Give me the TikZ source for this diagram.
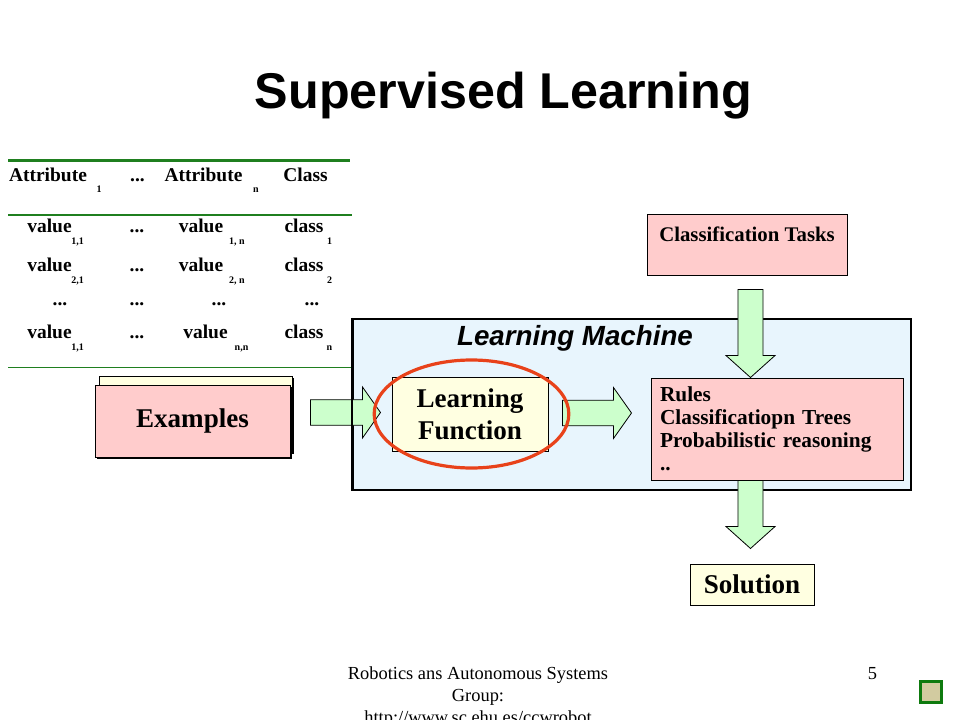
\documentclass[tikz,border=0pt]{standalone}
\usepackage{fontspec}
\setmainfont{Liberation Serif}
\newfontfamily\headfont{Liberation Sans}
\usetikzlibrary{calc,positioning,shapes.geometric,shadows}
\definecolor{leaf}{HTML}{1F7F1F}
\definecolor{rose}{HTML}{FFCCCC}
\definecolor{lemon}{HTML}{FFFFE1}
\definecolor{sky}{HTML}{E8F5FD}
\definecolor{mint}{HTML}{CCFFCC}
\definecolor{flame}{HTML}{E8421A}
\definecolor{khaki}{HTML}{D2CBA0}
\definecolor{moss}{HTML}{0E7A0E}
\newcommand{\threedots}{...}

\begin{document}
\begin{tikzpicture}[x=0.75pt,y=-0.75pt,
    cell/.style={anchor=base,inner sep=0pt,font=\fontsize{14.6}{17}\selectfont\bfseries},
    subcell/.style={anchor=base,inner sep=0pt,font=\fontsize{7.5}{9}\selectfont\bfseries},
    box/.style={draw=black,line width=0.75pt,inner sep=0pt,font=\fontsize{20.3}{24}\selectfont\bfseries},
    shade/.style={drop shadow={shadow xshift=1.2pt,shadow yshift=-1.2pt,opacity=1,fill=black}},
    fatarr/.style n args={3}{draw=black,line width=0.6pt,fill=mint,line join=miter,
      to path={($(\tikztostart)!#1!90:(\tikztotarget)$)
        -- ($($(\tikztotarget)!#3!(\tikztostart)$)!#1!90:(\tikztotarget)$)
        -- ($($(\tikztotarget)!#3!(\tikztostart)$)!#2!90:(\tikztotarget)$)
        -- (\tikztotarget)
        -- ($($(\tikztotarget)!#3!(\tikztostart)$)!#2!-90:(\tikztotarget)$)
        -- ($($(\tikztotarget)!#3!(\tikztostart)$)!#1!-90:(\tikztotarget)$)
        -- ($(\tikztostart)!#1!-90:(\tikztotarget)$) -- cycle}},
    hfat/.style={fatarr={9.6pt}{19.1pt}{13.5pt}},
    vfat/.style={fatarr={9.4pt}{18.4pt}{16.5pt}}]
  \useasboundingbox (0,0) rectangle (960,720);
  \clip (0,0) rectangle (960,720);
  \fill[white] (0,0) rectangle (960,720);
  \node[anchor=base,inner sep=0pt,font=\headfont\fontsize{37.7}{45}\selectfont\bfseries] (title) at (503.5,109) {Supervised Learning};

  \draw[leaf,line width=2.25pt] (8,160.5) -- (350,160.5);
  \draw[leaf,line width=0.9pt] (8,215) -- (352,215);
  \draw[leaf,line width=0.9pt] (8,367.5) -- (353,367.5);
  \foreach \x/\txt [count=\i] in {48/Attribute,137.5/\threedots,203.5/Attribute,305.5/Class}
    \node[cell] (hd\i) at (\x,182) {\txt};
  \foreach \x/\txt [count=\i] in {99/1,256/n}
    \node[subcell] (hs\i) at (\x,193) {\txt};
  \foreach \y/\xb/\sa/\sb/\sc [count=\i] in {233/201/{1,1}/{1, n}/1,272/201/{2,1}/{2, n}/2,338/205.5/{1,1}/{n,n}/n}{
    \node[cell] (va\i) at (49.5,\y) {value};
    \node[subcell] (sa\i) at (77.5,\y+12) {\sa};
    \node[cell] (dd\i) at (137,\y) {\threedots};
    \node[cell] (vb\i) at (\xb,\y) {value};
    \node[subcell] (sb\i) at (\xb+36,\y+12) {\sb};
    \node[cell] (cl\i) at (304,\y) {class};
    \node[subcell] (sc\i) at (329.5,\y+12) {\sc};
  }
  \foreach \x [count=\i] in {60,137,219,312}
    \node[cell] (dt\i) at (\x,305.5) {\threedots};

  \node[box,fill=lemon,shade,minimum width=144.75pt,minimum height=57pt] (exback) at (195.5,414) {};
  \node[box,fill=rose,shade,minimum width=146.25pt,minimum height=54pt] (ex) at (192.5,421) {Examples};

  \node[draw=black,line width=1.6pt,fill=sky,inner sep=0pt,minimum width=418.5pt,minimum height=128.25pt] (lm) at (632,404.5) {};
  \node[anchor=base,inner sep=0pt,font=\headfont\fontsize{20.8}{24}\selectfont\bfseries\itshape] (lmtitle) at (575,345.5) {Learning Machine};
  \node[box,fill=lemon,minimum width=117pt,minimum height=55.5pt,align=center] (lf) at (470,414) {Learning\\Function};
  \node[box,fill=rose,minimum height=76.5pt,text width=175.5pt,inner xsep=6.75pt,align=left,font=\fontsize{16}{17.25}\selectfont\bfseries] (rules) at (777,429)
    {Rules\\Classificatiopn Trees\\Probabilistic reasoning\\..};
  \node[box,fill=rose,minimum width=150pt,minimum height=45.75pt,text height=11pt,text depth=17pt,font=\fontsize{15.6}{18}\selectfont\bfseries] (task) at (747,245.5) {Classification Tasks};
  \node[box,fill=lemon,minimum width=93pt,minimum height=30.75pt] (sol) at (752,584.5) {Solution};

  \draw[hfat] ($(ex.east |- lf.west)+(20,-1.5)$) to ($(lf.west)+(-11,-1.5)$);
  \draw[line width=1.6pt] (lm.north west) -- (lm.south west);
  \draw[hfat] ($(lf.east)+(14,-1)$) to ($(rules.west |- lf.east)+(-19,-1)$);
  \coordinate (drop) at ($(task.south)+(3.5,13)$);
  \draw[vfat] (drop) to (drop |- rules.north);
  \draw[vfat] (drop |- rules.south) to ($(drop |- sol.north)+(0,-15)$);
  \node[ellipse,draw=flame,line width=2.4pt,minimum width=146pt,minimum height=81pt] (lfring) at (471.5,414) {};

  \node[anchor=north,inner sep=0pt,align=center,font=\fontsize{13.8}{16.5}\selectfont] (foot) at (478,666.5)
    {Robotics ans Autonomous Systems\\Group:\\http://www.sc.ehu.es/ccwrobot};
  \node[anchor=base,inner sep=0pt,font=\fontsize{13.8}{16.5}\selectfont] (page) at (872.5,679) {5};
  \node[draw=moss,line width=2.25pt,fill=khaki,inner sep=0pt,minimum size=15.75pt] (icon) at (931,691.5) {};
\end{tikzpicture}
\end{document}
